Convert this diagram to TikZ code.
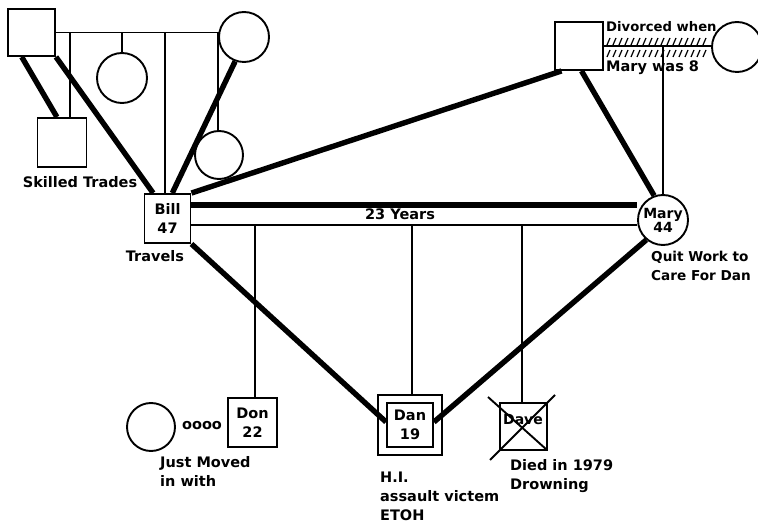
\documentclass[tikz,border=0pt]{standalone}
\usepackage{fontspec}
\setmainfont{DejaVu Sans}
\usetikzlibrary{calc}
\tikzset{
  thinln/.style={line width=1.9pt},
  thickln/.style={line width=5.4pt},
  male/.style={draw, line width=1.9pt, rectangle, minimum width=#1, minimum height=#1, inner sep=0pt, font=\fontsize{14.5}{19}\selectfont\bfseries, align=center},
  female/.style={draw, line width=1.9pt, circle, minimum size=#1, inner sep=0pt, font=\fontsize{14}{16}\selectfont\bfseries, align=center},
  lbl/.style={inner sep=0pt, font=\fontsize{14.5}{19}\selectfont\bfseries, align=left},
  hatch/.style={line width=1.2pt},
}
\begin{document}
\begin{tikzpicture}[x=1pt,y=-1pt]
\useasboundingbox[fill=white] (0,0) rectangle (758,529);
% grandparents (Bill's side)
\node[male=47] (gpa) at (31.5,32.5) {};
\node[female=50] (gma) at (244,37) {};
\node[male=49] (trade) at (62,142.5) {};
\node[female=50] (sis1) at (122,78) {};
\node[female=48] (sis2) at (219,155) {};
\node[male=46, minimum height=49] (bill) at (167.5,218.5) {Bill\\47};
% Mary's parents
\node[male=48] (mpa) at (579,46) {};
\node[female=50] (mma) at (737,47) {};
\node[female=50] (mary) at (663,220) {Mary\\[-2pt]44};
% children
\node[male=49] (don) at (252.5,422.5) {Don\\22};
\node[female=48] (gf) at (151,427) {};
\node[draw, line width=1.9pt, minimum width=64, minimum height=60, inner sep=0pt] (danout) at (410,425) {};
\node[male=46, minimum height=44] (dan) at (410,425) {Dan\\19};
\node[male=47] (dave) at (523.5,426.5) {};

% sibship of Bill
\coordinate (sibL) at (gpa.east);
\coordinate (sibR) at (gpa.east -| gma.west);
\draw[thinln] (sibL) -- (sibR);
\coordinate (s1) at (70,32.5);
\coordinate (s2) at (122,32.5);
\coordinate (s3) at (165,32.5);
\coordinate (s4) at (218,32.5);
\draw[thinln] (s1) -- (s1 |- trade.north);
\draw[thinln] (s2) -- (sis1.north);
\draw[thinln] (s3) -- (s3 |- bill.north);
\draw[thinln] (s4) -- (s4 |- sis2.north);
% thick relationship lines
\draw[thickln] ($(gpa.south west)!0.3!(gpa.south east)$) -- ($(trade.north west)!0.4!(trade.north east)$);
\draw[thickln] (gpa.south east) -- ($(bill.north west)!0.2!(bill.north east)$);
\draw[thickln] (gma.-110) -- ($(bill.north west)!0.6!(bill.north east)$);
\draw[thickln] (bill.north east) -- ($(mpa.south west)!0.15!(mpa.south east)$);
\draw[thickln] ($(mpa.south west)!0.55!(mpa.south east)$) -- (mary.110);
\draw[thickln] (bill.south east) -- ($(dan.west)+(0,-3)$);
\draw[thickln] (mary.-130) -- ($(dan.east)+(0,-3)$);

% divorce line
\coordinate (divL) at (mpa.east);
\coordinate (divR) at (mpa.east -| mma.west);
\draw[thinln] (divL) -- (divR);
\foreach \x in {607,613,...,707} {
  \draw[hatch] (\x,45) -- (\x+3,38);
  \draw[hatch] (\x,57) -- (\x+3,50);
}
\coordinate (mdrop) at (663,46);
\draw[thinln] (mdrop) -- (mdrop |- mary.north);

% marriage of Bill and Mary
\coordinate (mthick) at (190,205);
\coordinate (mthin) at (190,225);
\draw[thickln] (mthick) -- (mthick -| mary.west);
\draw[thinln] (mthin) -- (mthin -| mary.west);
\node[lbl] (yrs) at (400,214) {23 Years};
\coordinate (c1) at (255,225);
\coordinate (c2) at (412,225);
\coordinate (c3) at (522,225);
\draw[thinln] (c1) -- (c1 |- don.north);
\draw[thinln] (c2) -- (c2 |- danout.north);
\draw[thinln] (c3) -- (c3 |- dave.north);

% Dave deceased cross
\coordinate (x1) at (488,397);
\coordinate (x2) at (547,450);
\coordinate (x3) at (555,395);
\coordinate (x4) at (490,460);
\draw[thinln] (x1) -- (x2);
\draw[thinln] (x3) -- (x4);
\node[font=\fontsize{14}{16}\selectfont\bfseries, inner sep=0pt] (davet) at (523,419) {Dave};

% Don's partner
\node[lbl] (oo) at (202,426) {oooo};

% labels
\node[lbl] (skl) at (80,182) {Skilled Trades};
\node[lbl] (trv) at (155,256) {Travels};
\node[lbl, font=\fontsize{13.6}{19}\selectfont\bfseries, anchor=north west] (qw) at (651,251) {Quit Work to\\Care For Dan};
\node[lbl, font=\fontsize{13.2}{15}\selectfont\bfseries, anchor=west] (dw) at (606,27) {Divorced when};
\node[lbl, anchor=west] (mw) at (606,68) {Mary was 8};
\node[lbl, anchor=north west] (jm) at (160,456) {Just Moved\\in with};
\node[lbl, anchor=north west] (hi) at (380,472) {H.I.\\assault victem\\ETOH};
\node[lbl, anchor=north west] (di) at (510,459) {Died in 1979\\Drowning};
\end{tikzpicture}
\end{document}
